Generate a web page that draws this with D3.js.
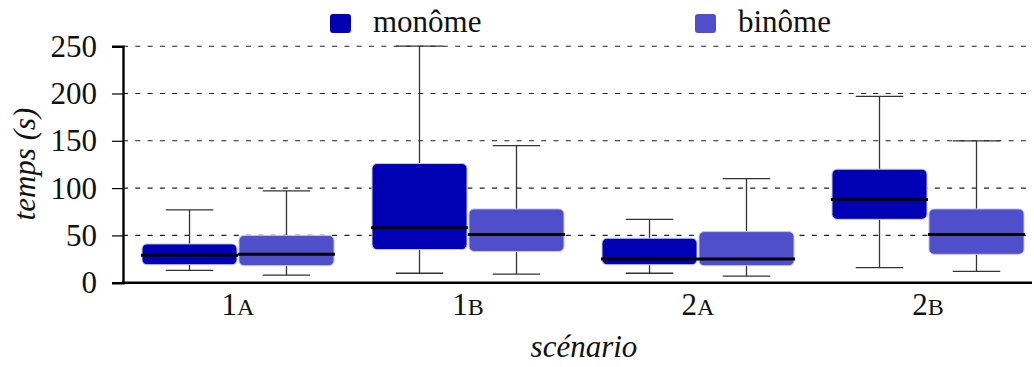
<!DOCTYPE html>
<html>
<head>
<meta charset="utf-8">
<script src="https://d3js.org/d3.v7.min.js"></script>
<style>
  html body svg#chart text, html body svg#chart tspan { font-family: "Liberation Serif" !important; }
</style>
</head>
<body style="margin:0;background:#fff">
<svg id="chart" width="1034" height="367"></svg>
<script>
// scenarios on the x axis (number + small-caps letter)
const scenarios = ["1A", "1B", "2A", "2B"];
const series = ["monôme", "binôme"];
const colors = ["#0000b5", "#4f4fcc"];

// box plot stats per series, one entry per scenario: [min, q1, median, q3, max]
const monome = [
  [13, 19, 29, 41, 77],
  [10, 35, 58, 126, 250],
  [10, 19, 25, 47, 67],
  [16, 67, 88, 120, 197]
];
const binome = [
  [8, 18, 30, 50, 97],
  [9, 33, 51, 78, 145],
  [7, 18, 25, 54, 110],
  [12, 30, 51, 78, 150]
];
const yTicks = [0, 50, 100, 150, 200, 250];

const FONT = "Liberation Serif";
const svg = d3.select("svg");
const mLeft = 123, mRight = 1032, mTop = 46.2, mBottom = 282.7;

const x = d3.scaleBand().domain(scenarios).range([mLeft, 1043]);
const xs = d3.scaleBand().domain(series).range([-96, 96]).paddingInner(0.02);
const y = d3.scaleLinear().domain([0, 250]).range([mBottom, mTop]);

// serif text helper
function serif(sel, size) {
  return sel.attr("font-family", FONT)
    .attr("font-size", size)
    .style("font-family", FONT, "important")
    .attr("fill", "#111");
}

// dashed grid
svg.append("g")
  .selectAll("line")
  .data(yTicks.slice(1))
  .join("line")
  .attr("x1", mLeft).attr("x2", mRight)
  .attr("y1", d => y(d)).attr("y2", d => y(d))
  .attr("stroke", "#222")
  .attr("stroke-width", 1.1)
  .attr("stroke-dasharray", "5,7.3");

// y axis
const yAxis = svg.append("g")
  .attr("transform", `translate(${mLeft},0)`)
  .call(d3.axisLeft(y).tickValues(yTicks).tickSize(11).tickPadding(15));
yAxis.attr("font-family", FONT).attr("font-size", 31);
yAxis.select(".domain").attr("stroke", "#000").attr("stroke-width", 2.4);
yAxis.selectAll(".tick line").attr("stroke", "#000").attr("stroke-width", 1.2);
serif(yAxis.selectAll(".tick text"), 31);

// boxes
const all = [monome, binome];
const groups = svg.append("g")
  .selectAll("g")
  .data(scenarios)
  .join("g")
  .attr("transform", d => `translate(${x(d) + x.bandwidth() / 2},0)`);

const boxes = groups.selectAll("g")
  .data((s, i) => series.map((name, k) => ({ name, k, v: all[k][i] })))
  .join("g")
  .attr("transform", d => `translate(${xs(d.name)},0)`);

const bw = xs.bandwidth();

// whisker stems
boxes.append("line")
  .attr("x1", bw / 2).attr("x2", bw / 2)
  .attr("y1", d => y(d.v[0])).attr("y2", d => y(d.v[4]))
  .attr("stroke", "#333").attr("stroke-width", 1.3);

// whisker caps
boxes.selectAll(".cap")
  .data(d => [d.v[0], d.v[4]])
  .join("line")
  .attr("class", "cap")
  .attr("x1", bw / 4).attr("x2", bw * 3 / 4)
  .attr("y1", d => y(d)).attr("y2", d => y(d))
  .attr("stroke", "#333").attr("stroke-width", 1.3);

boxes.append("rect")
  .attr("x", 0)
  .attr("width", bw)
  .attr("y", d => y(d.v[3]))
  .attr("height", d => y(d.v[1]) - y(d.v[3]))
  .attr("rx", 5)
  .attr("fill", d => colors[d.k])
  .attr("stroke", "#c8c8ee")
  .attr("stroke-width", 1);

boxes.append("line")
  .attr("x1", -1).attr("x2", bw + 1)
  .attr("y1", d => y(d.v[2])).attr("y2", d => y(d.v[2]))
  .attr("stroke", "#000").attr("stroke-width", 3);

// x axis line
svg.append("line")
  .attr("x1", mLeft - 1).attr("x2", mRight)
  .attr("y1", mBottom).attr("y2", mBottom)
  .attr("stroke", "#000").attr("stroke-width", 2.4);

// scenario labels with small caps letter
const xl = serif(svg.append("g")
  .selectAll("text")
  .data(scenarios)
  .join("text")
  .attr("x", d => x(d) + x.bandwidth() / 2)
  .attr("y", 315)
  .attr("text-anchor", "middle"), 31);
xl.append("tspan").text(d => d[0]);
xl.append("tspan").attr("font-size", 24).text(d => d[1]);

// axis titles
serif(svg.append("text")
  .attr("transform", "translate(35,164) rotate(-90)")
  .attr("text-anchor", "middle")
  .attr("font-style", "italic"), 31)
  .text("temps (s)");

serif(svg.append("text")
  .attr("x", 584).attr("y", 357)
  .attr("text-anchor", "middle")
  .attr("font-style", "italic"), 31)
  .text("scénario");

// legend
const legendX = [330, 695];
const lg = svg.append("g")
  .selectAll("g")
  .data(series)
  .join("g")
  .attr("transform", (d, i) => `translate(${legendX[i]},14)`);
lg.append("rect")
  .attr("width", 21).attr("height", 19).attr("rx", 3)
  .attr("fill", (d, i) => colors[i]);
serif(lg.append("text")
  .attr("x", 43).attr("y", 18), 31)
  .text(d => d);
</script>
</body>
</html>
